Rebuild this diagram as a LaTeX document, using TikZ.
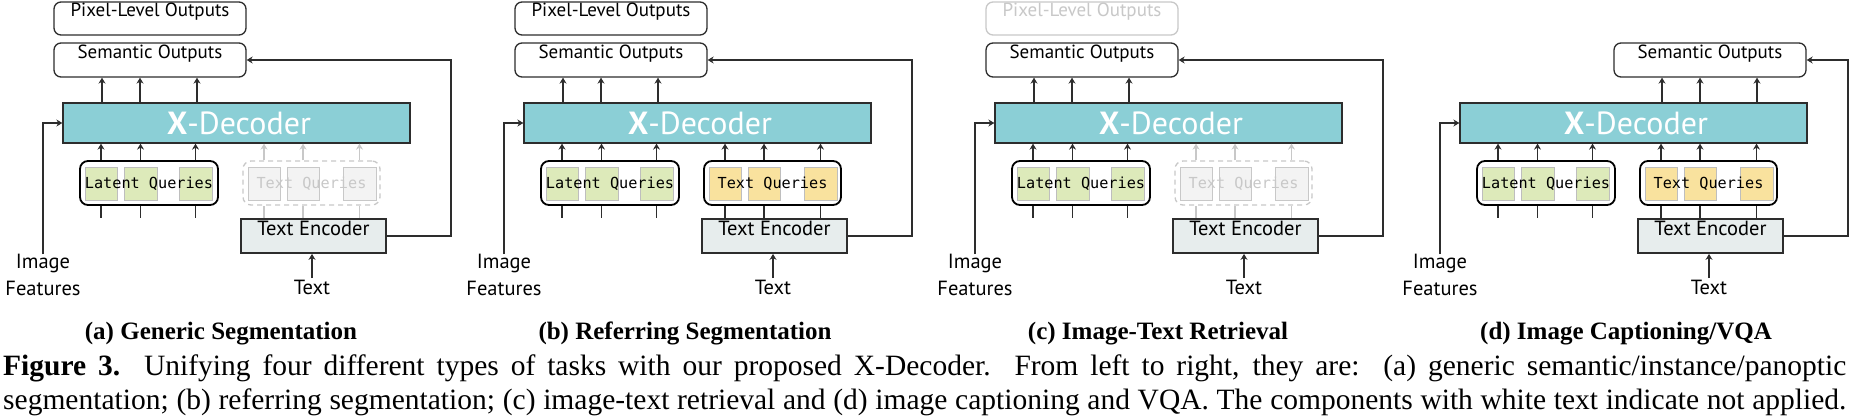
\documentclass[tikz,border=0pt]{standalone}
\usepackage{fontspec}
\setmainfont{Liberation Serif}
\newfontfamily\dfont{PT Sans}
\newfontfamily\mfont{DejaVu Sans Mono}
\usetikzlibrary{arrows.meta,fit}
\definecolor{lc}{RGB}{45,45,45}
\definecolor{gl}{RGB}{190,190,190}
\definecolor{gt}{RGB}{200,200,200}
\definecolor{decfill}{RGB}{139,207,214}
\definecolor{grn}{RGB}{221,234,186}
\definecolor{yel}{RGB}{249,226,158}
\definecolor{gsqf}{RGB}{243,243,243}
\definecolor{tef}{RGB}{231,237,237}
\tikzset{
  ln/.style={draw=lc, line width=1.2pt},
  arr/.style={ln, -{Stealth[length=6pt,width=7pt,inset=2pt]}},
  rbox/.style={draw=lc, line width=1.3pt, rounded corners=7pt, fill=white, inner sep=0pt,
    font=\dfont\fontsize{19}{19}\selectfont},
  pix-on/.style={rbox},
  pix-off/.style={rbox, draw=gt, text=gt},
  decbox/.style={draw=lc, line width=1.3pt, fill=decfill, inner sep=0pt},
  dectext/.style={text=white, inner sep=0pt, font=\dfont\fontsize{32}{32}\selectfont},
  qbox/.style={draw=black, line width=1.8pt, rounded corners=8pt, fill=white, inner sep=0pt},
  gsq/.style={draw=gl, line width=1pt, fill=grn, inner sep=0pt},
  mono/.style={inner sep=0pt, font=\mfont\fontsize{15.2}{15.2}\selectfont},
  tqbox-on/.style={qbox},
  tqbox-off/.style={draw=gt, line width=1.3pt, dashed, dash pattern=on 5pt off 4pt, rounded corners=8pt, fill=white, inner sep=0pt},
  tsq-on/.style={draw=gl, line width=1pt, fill=yel, inner sep=0pt},
  tsq-off/.style={draw=gt, line width=1pt, fill=gsqf, inner sep=0pt},
  tqtext-on/.style={text=black},
  tqtext-off/.style={text=gt},
  tqarr-on/.style={arr},
  tqarr-off/.style={arr, draw=gt},
  tqln-on/.style={ln},
  tqln-off/.style={ln, draw=gt},
  tebox/.style={draw=lc, line width=1.8pt, fill=tef, inner sep=0pt,
    font=\dfont\fontsize{20.5}{20.5}\selectfont},
  lab/.style={inner sep=0pt, font=\dfont\fontsize{20.5}{27}\selectfont},
  subcap/.style={inner sep=0pt, font=\bfseries\fontsize{25}{25}\selectfont},
  capline/.style={inner sep=0pt, anchor=base west, font=\fontsize{29.5}{34}\selectfont},
}
% #1 x shift, #2 name prefix, #3 text-query mode (on/off), #4 semantic offset, #5 extra code
\newcommand\xdpanel[5]{%
\begin{scope}[shift={(#1,0)}, name prefix=#2-]
  #5
  \node[rbox, fit={(-9+#4,43)(183+#4,77)}] (sem) {Semantic Outputs};
  \node[decbox, fit={(0,103)(347,143)}] (dec) {};
  \node[dectext] (dect) at (176,123) {\textbf{X}-Decoder};
  \node[qbox, fit={(17,161)(155,205)}] (lat) {};
  \node[gsq, fit={(22,167)(54,200)}] (g1) {};
  \node[gsq, fit={(61,167)(94,200)}] (g2) {};
  \node[gsq, fit={(116,167)(149,200)}] (g3) {};
  \node[mono] (lq) at (86,183.5) {Latent Queries};
  \node[tqbox-#3, fit={(180,161)(317,205)}] (tq) {};
  \node[tsq-#3, fit={(185,167)(217,200)}] (t1) {};
  \node[tsq-#3, fit={(224,167)(256,200)}] (t2) {};
  \node[tsq-#3, fit={(280,167)(313,200)}] (t3) {};
  \node[mono, tqtext-#3] (tqt) at (248.5,183.5) {Text Queries};
  \node[tebox, fit={(178,219)(323,253)}] (te) {Text Encoder};
  \node[lab, anchor=north, inner sep=2pt] (txt) at (249,278) {Text};
  \node[lab, anchor=north, align=center] (img) at (-20,254) {Image\\Features};
  \coordinate (o1) at (39+#4,0);
  \coordinate (o2) at (77+#4,0);
  \coordinate (o3) at (134+#4,0);
  \coordinate (fb) at (388,0);
  \foreach \o in {o1,o2,o3} {\draw[arr] (dec.north -| \o) -- (sem.south -| \o);}
  \foreach \g in {g1,g2,g3} {
    \draw[arr] (lat.north -| \g) -- (dec.south -| \g);
    \draw[ln] (lat.south -| \g) -- (te.north -| \g);
  }
  \foreach \t in {t1,t2,t3} {
    \draw[tqarr-#3] (tq.north -| \t) -- (dec.south -| \t);
    \draw[tqln-#3] (te.north -| \t) -- (tq.south -| \t);
  }
  \draw[arr] (txt.north) -- (te.south -| txt);
  \draw[arr] (img.north) |- (dec.west);
  \draw[arr] (te.east) -- (te.east -| fb) -- (sem.east -| fb) -- (sem.east);
\end{scope}}
\begin{document}
\begin{tikzpicture}[x=1pt, y=-1pt]
  \useasboundingbox[fill=white] (0,0) rectangle (1851,417);
  \xdpanel{63}{a}{off}{0}{\node[pix-on, fit={(-9,2)(183,35)}] (pix) {Pixel-Level Outputs};}
  \xdpanel{524}{b}{on}{0}{\node[pix-on, fit={(-9,2)(183,35)}] (pix) {Pixel-Level Outputs};}
  \xdpanel{995}{c}{off}{0}{\node[pix-off, fit={(-9,2)(183,35)}] (pix) {Pixel-Level Outputs};}
  \xdpanel{1460}{d}{on}{163}{}
  \node[subcap, anchor=base] (capa) at (221,339) {(a) Generic Segmentation};
  \node[subcap, anchor=base] (capb) at (685,339) {(b) Referring Segmentation};
  \node[subcap, anchor=base] (capc) at (1158,339) {(c) Image-Text Retrieval};
  \node[subcap, anchor=base] (capd) at (1626,339) {(d) Image Captioning/VQA};
  \node[capline] (cap1) at (3,375) {\makebox[1843pt][s]{\textbf{Figure 3.}\ \ Unifying four different types of tasks with our proposed X-Decoder.\ \ From left to right, they are:\ \ (a) generic semantic/instance/panoptic}};
  \node[capline] (cap2) at (3,409) {\makebox[1843pt][s]{segmentation; (b) referring segmentation; (c) image-text retrieval and (d) image captioning and VQA. The components with white text indicate not applied.}};
\end{tikzpicture}
\end{document}
